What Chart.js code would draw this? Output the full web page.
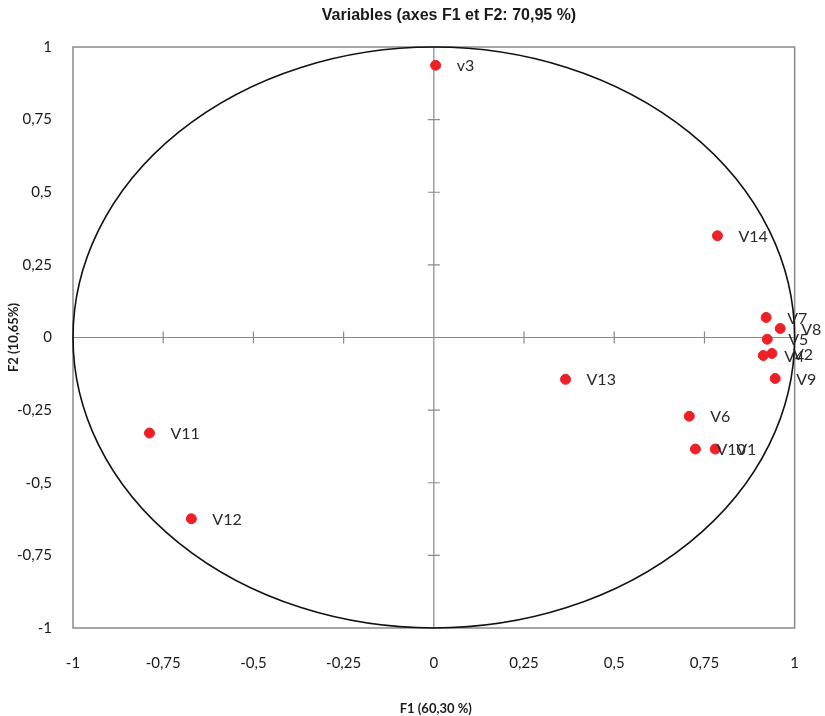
<!DOCTYPE html>
<html>
<head>
<meta charset="utf-8">
<script src="https://cdn.jsdelivr.net/npm/chart.js@4.4.1/dist/chart.umd.min.js"></script>
<style>
  html, body { margin: 0; padding: 0; background: #ffffff; }
  #wrap { width: 825px; height: 716px; position: relative; }
</style>
</head>
<body>
<div id="wrap"><canvas id="c"></canvas></div>
<script>
// ---- data ----
const varNames = ['V1','V2','v3','V4','V5','V6','V7','V8','V9','V10','V11','V12','V13','V14'];
const f1Values = [0.780, 0.937, 0.005, 0.913, 0.924, 0.708, 0.921, 0.960, 0.946, 0.725, -0.788, -0.672, 0.365, 0.786];
const f2Values = [-0.384, -0.055, 0.937, -0.062, -0.006, -0.271, 0.069, 0.031, -0.141, -0.384, -0.329, -0.624, -0.144, 0.350];
const axisMin = -1, axisMax = 1, axisStep = 0.25;
const titleText = 'Variables (axes F1 et F2: 70,95 %)';
const xTitleText = 'F1 (60,30 %)';
const yTitleText = 'F2 (10,65%)';

const points = varNames.map((n, i) => ({ x: f1Values[i], y: f2Values[i] }));
const fmt = v => String(Math.round(v * 100) / 100).replace('.', ',');

const decor = {
  id: 'decor',
  beforeDatasetsDraw(chart) {
    const { ctx, chartArea: a, scales: { x, y } } = chart;
    ctx.save();
    // frame
    ctx.strokeStyle = '#8a8a8a';
    ctx.lineWidth = 1.5;
    ctx.strokeRect(a.left, a.top, a.right - a.left, a.bottom - a.top);
    // zero axes
    const x0 = x.getPixelForValue(0), y0 = y.getPixelForValue(0);
    ctx.strokeStyle = '#8a8a8a';
    ctx.lineWidth = 1.2;
    ctx.beginPath();
    ctx.moveTo(a.left, y0); ctx.lineTo(a.right, y0);
    ctx.moveTo(x0, a.top); ctx.lineTo(x0, a.bottom);
    // tick marks on zero axes
    x.ticks.forEach(t => {
      if (t.value === 0 || t.value === axisMin || t.value === axisMax) return;
      const px = x.getPixelForValue(t.value);
      ctx.moveTo(px, y0 - 6); ctx.lineTo(px, y0 + 6);
    });
    y.ticks.forEach(t => {
      if (t.value === 0 || t.value === axisMin || t.value === axisMax) return;
      const py = y.getPixelForValue(t.value);
      ctx.moveTo(x0 - 6, py); ctx.lineTo(x0 + 6, py);
    });
    ctx.stroke();
    // correlation circle (radius 1 in data units)
    const rx = x.getPixelForValue(1) - x0;
    const ry = y0 - y.getPixelForValue(1);
    ctx.strokeStyle = '#111111';
    ctx.lineWidth = 1.6;
    ctx.beginPath();
    ctx.ellipse(x0, y0, rx, ry, 0, 0, Math.PI * 2);
    ctx.stroke();
    ctx.restore();
  },
  afterDatasetsDraw(chart) {
    const { ctx, chartArea: a } = chart;
    const meta = chart.getDatasetMeta(0);
    ctx.save();
    ctx.font = '16px Lato, "Liberation Sans", sans-serif';
    ctx.fillStyle = '#2a2a2a';
    ctx.textBaseline = 'middle';
    ctx.textAlign = 'left';
    meta.data.forEach((el, i) => {
      ctx.fillText(varNames[i], el.x + 21, el.y + 1);
    });
    // titles
    ctx.fillStyle = '#1a1a1a';
    ctx.textAlign = 'center';
    ctx.font = 'bold 16px "Liberation Sans Narrow", "Liberation Sans", Arial, sans-serif';
    ctx.fillText(titleText, 449, 16);
    ctx.font = 'bold 13px Lato, "Liberation Sans", sans-serif';
    ctx.fillText(xTitleText, (a.left + a.right) / 2 + 2, 709);
    ctx.translate(14, (a.top + a.bottom) / 2);
    ctx.rotate(-Math.PI / 2);
    ctx.fillText(yTitleText, 0, 0);
    ctx.restore();
  }
};

new Chart(document.getElementById('c'), {
  type: 'scatter',
  data: {
    datasets: [{
      data: points,
      backgroundColor: 'rgb(236,32,38)',
      borderColor: 'rgb(236,32,38)',
      pointRadius: 5,
      pointHoverRadius: 5
    }]
  },
  options: {
    responsive: true,
    maintainAspectRatio: false,
    animation: false,
    layout: { padding: { top: 47, right: 30, left: 0, bottom: 0 } },
    plugins: { legend: { display: false }, tooltip: { enabled: false }, title: { display: false } },
    scales: {
      x: {
        type: 'linear', min: axisMin, max: axisMax,
        grid: { display: false, drawTicks: false },
        border: { display: false },
        ticks: { stepSize: axisStep, callback: v => fmt(v), padding: 26, color: '#1a1a1a',
                 font: { family: 'Lato, "Liberation Sans", sans-serif', size: 15 }, maxRotation: 0 },
        afterFit: s => { s.height = 88; }
      },
      y: {
        type: 'linear', min: axisMin, max: axisMax,
        grid: { display: false, drawTicks: false },
        border: { display: false },
        ticks: { stepSize: axisStep, callback: v => fmt(v), padding: 21, color: '#1a1a1a',
                 font: { family: 'Lato, "Liberation Sans", sans-serif', size: 15 } },
        afterFit: s => { s.width = 73; }
      }
    }
  },
  plugins: [decor]
});
</script>
</body>
</html>
